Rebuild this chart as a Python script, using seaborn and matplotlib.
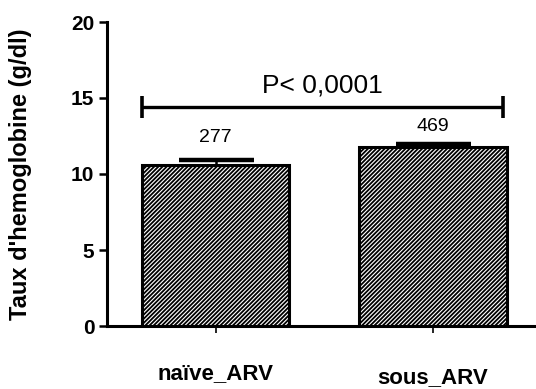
import matplotlib
matplotlib.use("Agg")
import matplotlib.pyplot as plt
import matplotlib.transforms as mtransforms
import seaborn as sns
import pandas as pd

# ---- data ----
categories = ["naïve_ARV", "sous_ARV"]
means = [10.6, 11.75]
errors = [0.3, 0.25]
n_labels = ["277", "469"]
p_text = "P< 0,0001"
y_ticks = [0, 5, 10, 15, 20]

sns.set_style("ticks")
plt.rcParams['font.family'] = ['Liberation Sans', 'DejaVu Sans']
plt.rcParams['hatch.linewidth'] = 1.3
plt.rcParams['hatch.color'] = 'black'
for k in ['text.color', 'axes.labelcolor', 'xtick.color', 'ytick.color',
          'xtick.labelcolor', 'ytick.labelcolor', 'axes.edgecolor']:
    plt.rcParams[k] = 'black'

df = pd.DataFrame({"group": categories, "value": means})

fig = plt.figure(figsize=(5.36, 3.89), dpi=100)
ax = fig.add_axes([107/536, 1 - 326/389, 1 - 107/536, (326 - 22)/389])

sns.barplot(data=df, x="group", y="value", ax=ax, color="white",
            edgecolor="black", linewidth=2.2, width=0.68, errorbar=None,
            zorder=3)
for p in ax.patches:
    p.set_hatch("////////")
    p.set_edgecolor("black")
    p.set_facecolor("white")

xs = list(range(len(categories)))
ax.errorbar(xs, means, yerr=errors, fmt="none", ecolor="black",
            elinewidth=1.8, capsize=27, capthick=3.2, zorder=2)

# n labels
for x, m, e, lab, off in zip(xs, means, errors, n_labels, [1.5, 1.1]):
    ax.text(x, m + e + off, lab, ha="center", va="center", fontsize=14, color="black")

# significance bracket
bar_w = 0.68
x_left = xs[0] - bar_w / 2
x_right = xs[1] + bar_w / 2 - 0.015
br_y = 14.4
ax.plot([x_left, x_right], [br_y, br_y], color="black", lw=2.4, solid_capstyle="butt", zorder=4)
for xb in (x_left, x_right):
    ax.plot([xb, xb], [br_y - 0.7, br_y + 0.7], color="black", lw=2.6, solid_capstyle="butt", zorder=4)
ax.text((x_left + x_right) / 2, br_y + 1.45, p_text, ha="center", va="center", fontsize=19, color="black")

ax.set_ylim(0, 20)
ax.set_xlim(-0.5, 1.475)
ax.set_yticks(y_ticks)
ax.set_yticklabels([str(t) for t in y_ticks], fontsize=15, fontweight="bold")
ax.set_xticks(xs)
ax.set_xticklabels(categories, fontsize=16, fontweight="bold")
ax.tick_params(axis="y", length=6, width=1.8, pad=3, colors="black")
ax.tick_params(axis="x", length=5, width=1.2, pad=22, colors="black")

# second label slightly lower, as in reference
lab2 = ax.get_xticklabels()[1]
lab2.set_transform(lab2.get_transform() + mtransforms.ScaledTranslation(0, -4/100, fig.dpi_scale_trans))

ax.set_xlabel("")
ax.set_ylabel("Taux d'hemoglobine (g/dl)", fontsize=17, fontweight="bold", color="black")
ax.yaxis.set_label_coords(-0.175, 0.5)

sns.despine(ax=ax)
for s in ["left", "bottom"]:
    ax.spines[s].set_linewidth(2.2)
    ax.spines[s].set_color("black")

fig.savefig("out.png", dpi=100)
